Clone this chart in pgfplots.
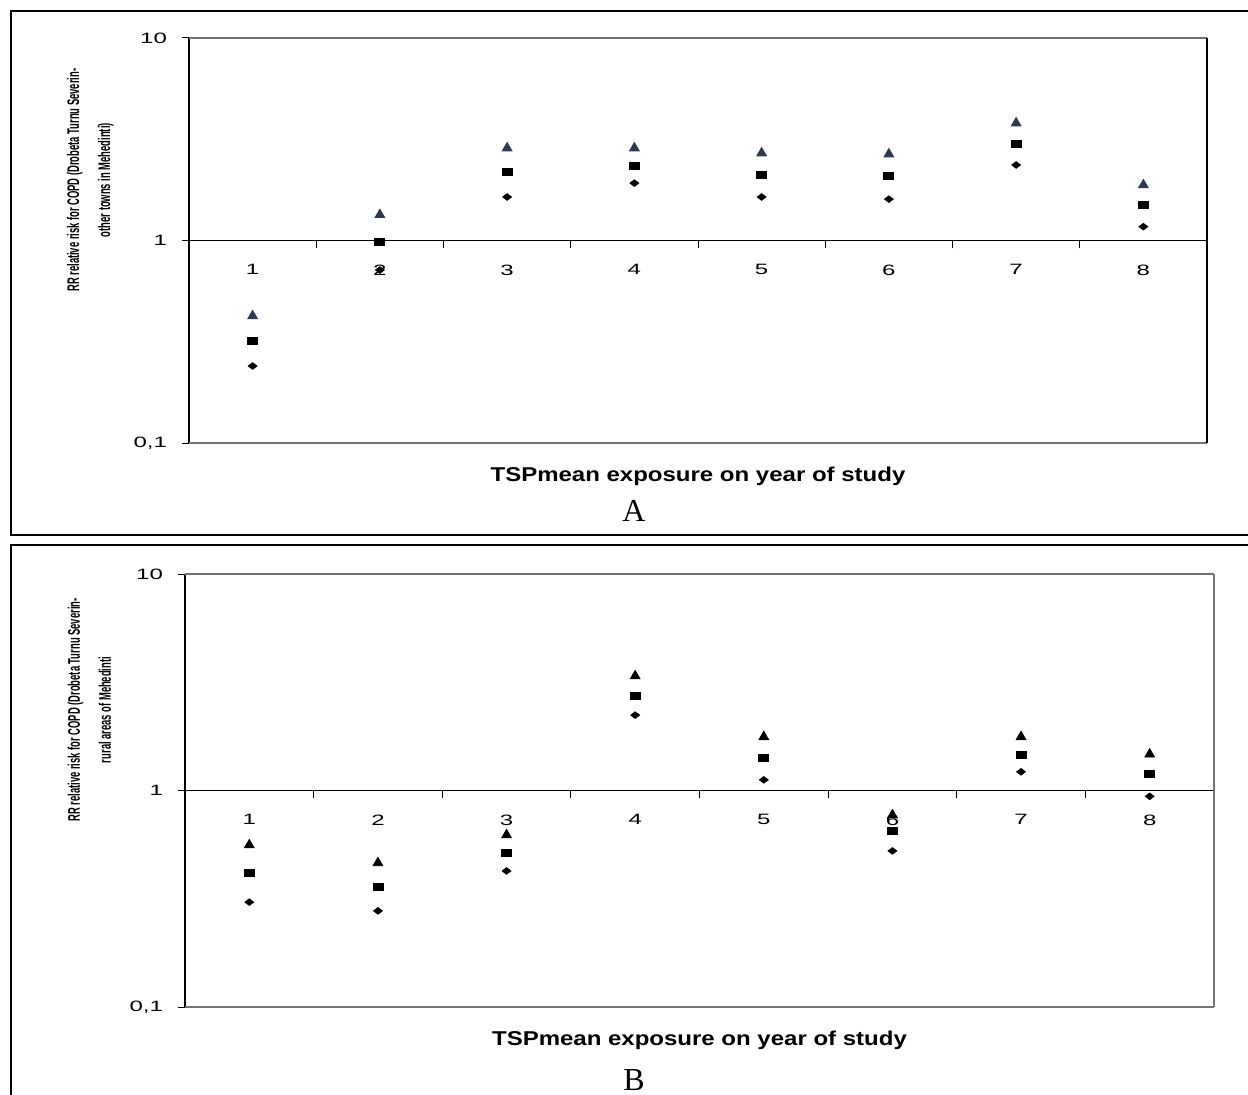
\documentclass[border=0pt]{standalone}
\usepackage{pgfplots}
\pgfplotsset{compat=1.18}
\usepackage{fontspec}
\setmainfont{Liberation Sans}
\newfontfamily\tickfont[FakeStretch=1.6]{Liberation Sans}
\newfontfamily\xlabfont[FakeStretch=1.2]{Liberation Sans Bold}
\newfontfamily\ylabfont[FakeStretch=0.56]{Liberation Sans Bold}
\newfontfamily\panelfont{Liberation Serif}
\definecolor{navy}{HTML}{2E3A50}
\definecolor{framegray}{gray}{0.45}

\begin{document}
\begin{tikzpicture}
\useasboundingbox (0,0) rectangle (624pt,547pt);
\begin{scope}
\clip (0,0) rectangle (624pt,547pt);
\draw[line width=1.4pt] (5.5pt,279.5pt) rectangle (640pt,541.5pt);
\draw[line width=1.4pt] (5.5pt,-10pt) rectangle (640pt,274.5pt);
\end{scope}

% ---------------- Panel A ----------------
\begin{axis}[
    at={(94.5pt,325.5pt)}, anchor=south west,
    width=509pt, height=202.5pt,
    scale only axis,
    clip=false,
    ymode=log,
    ymin=0.1, ymax=10,
    xmin=0.5, xmax=8.5,
    axis x line*=middle,
    axis y line*=left,
    axis line style={line width=0.9pt},
    xtick={1,...,8},
    minor xtick={1.5,2.5,...,7.5},
    major x tick style={draw=none},
    minor x tick style={black, line width=0.5pt},
    minor tick length=4pt,
    yminorticks=false,
    ytick={0.1,1,10},
    yticklabels={{0,1},1,10},
    xtick align=outside,
    ytick align=outside,
    major tick length=3.5pt,
    major y tick style={black, line width=0.5pt},
    /pgf/number format/assume math mode=true,
    tick label style={font={\fontsize{7.5}{9}\tickfont}},
    xticklabel style={anchor=north, yshift=-5pt},
    yticklabel style={anchor=east, xshift=-4pt},
    xlabel={TSPmean exposure on year of study},
    xlabel style={at={(rel axis cs:0.5,0)}, anchor=north, yshift=-8.5pt,
      font={\fontsize{10}{12}\xlabfont}},
  ]
\draw[framegray, line width=0.8pt] (rel axis cs:0,0) -- (rel axis cs:1,0);
\draw[framegray, line width=0.8pt] (rel axis cs:0,1) -- (rel axis cs:1,1);
\draw[black, line width=0.9pt] (rel axis cs:1,0) -- (rel axis cs:1,1);
\addplot[only marks, mark=triangle*, mark size=2.8pt, navy] coordinates {(1,0.424) (2,1.34) (3,2.86) (4,2.86) (5,2.70) (6,2.67) (7,3.80) (8,1.88)};
\addplot[only marks, mark=square*, mark size=2.5pt, black, mark options={yscale=0.7}] coordinates {(1,0.319) (2,0.98) (3,2.18) (4,2.33) (5,2.11) (6,2.08) (7,3.00) (8,1.50)};
\addplot[only marks, mark=diamond*, mark size=2.2pt, black, mark options={rotate=90}] coordinates {(1,0.240) (2,0.715) (3,1.64) (4,1.92) (5,1.64) (6,1.60) (7,2.36) (8,1.17)};
\node[rotate=90, align=center, font={\fontsize{8.4}{15.5}\ylabfont}]
  at (rel axis cs:-0.097,0.649) {RR relative risk for COPD (Drobeta Turnu Severin-\\other towns in Mehedinti)};
\end{axis}
\node[anchor=base, font={\fontsize{16}{18}\panelfont}] at (317pt,286pt) {A};

% ---------------- Panel B ----------------
\begin{axis}[
    at={(92.5pt,43.5pt)}, anchor=south west,
    width=514.5pt, height=216.5pt,
    scale only axis,
    clip=false,
    ymode=log,
    ymin=0.1, ymax=10,
    xmin=0.5, xmax=8.5,
    axis x line*=middle,
    axis y line*=left,
    axis line style={line width=0.9pt},
    xtick={1,...,8},
    minor xtick={1.5,2.5,...,7.5},
    major x tick style={draw=none},
    minor x tick style={black, line width=0.5pt},
    minor tick length=4pt,
    yminorticks=false,
    ytick={0.1,1,10},
    yticklabels={{0,1},1,10},
    xtick align=outside,
    ytick align=outside,
    major tick length=3.5pt,
    major y tick style={black, line width=0.5pt},
    /pgf/number format/assume math mode=true,
    tick label style={font={\fontsize{7.5}{9}\tickfont}},
    xticklabel style={anchor=north, yshift=-5pt},
    yticklabel style={anchor=east, xshift=-4pt},
    xlabel={TSPmean exposure on year of study},
    xlabel style={at={(rel axis cs:0.5,0)}, anchor=north, yshift=-8.5pt,
      font={\fontsize{10}{12}\xlabfont}},
  ]
\draw[framegray, line width=0.8pt] (rel axis cs:0,0) -- (rel axis cs:1,0);
\draw[framegray, line width=0.8pt] (rel axis cs:0,1) -- (rel axis cs:1,1);
\draw[framegray, line width=0.8pt] (rel axis cs:1,0) -- (rel axis cs:1,1);
\addplot[only marks, mark=triangle*, mark size=2.8pt, black] coordinates {(1,0.56) (2,0.463) (3,0.623) (4,3.38) (5,1.77) (6,0.77) (7,1.77) (8,1.47)};
\addplot[only marks, mark=square*, mark size=2.5pt, black, mark options={yscale=0.7}] coordinates {(1,0.416) (2,0.358) (3,0.514) (4,2.73) (5,1.41) (6,0.65) (7,1.46) (8,1.19)};
\addplot[only marks, mark=diamond*, mark size=2.2pt, black, mark options={rotate=90}] coordinates {(1,0.305) (2,0.278) (3,0.425) (4,2.23) (5,1.12) (6,0.526) (7,1.22) (8,0.94)};
\node[rotate=90, align=center, font={\fontsize{8.4}{15.5}\ylabfont}]
  at (rel axis cs:-0.093,0.686) {RR relative risk for COPD (Drobeta Turnu Severin-\\rural areas of Mehedinti};
\end{axis}
\node[anchor=base, font={\fontsize{16}{18}\panelfont}] at (317pt,2pt) {B};
\end{tikzpicture}
\end{document}
